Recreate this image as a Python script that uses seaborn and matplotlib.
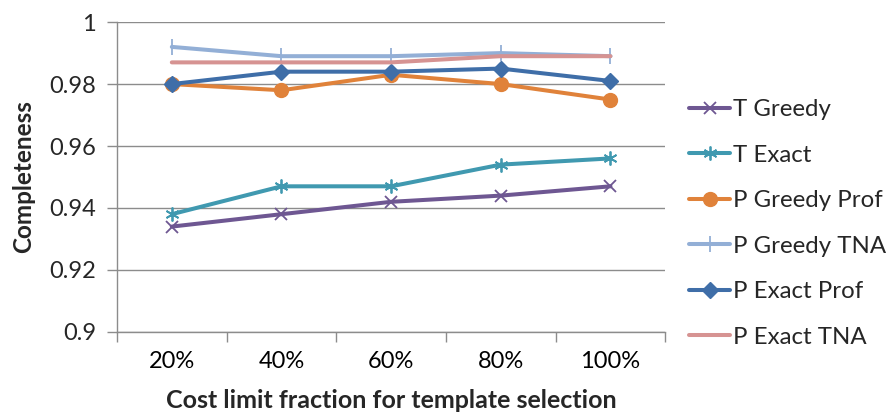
import matplotlib
matplotlib.use("Agg")
import matplotlib.pyplot as plt
import seaborn as sns
import pandas as pd
from matplotlib.ticker import FixedLocator

# Cost limit fractions and completeness per method
fractions = ["20%", "40%", "60%", "80%", "100%"]
t_greedy = [0.934, 0.938, 0.942, 0.944, 0.947]
t_exact = [0.938, 0.947, 0.947, 0.954, 0.956]
p_greedy_prof = [0.980, 0.978, 0.983, 0.980, 0.975]
p_greedy_tna = [0.992, 0.989, 0.989, 0.990, 0.989]
p_exact_prof = [0.980, 0.984, 0.984, 0.985, 0.981]
p_exact_tna = [0.987, 0.987, 0.987, 0.989, 0.989]

series = {
    "T Greedy": t_greedy,
    "T Exact": t_exact,
    "P Greedy Prof": p_greedy_prof,
    "P Greedy TNA": p_greedy_tna,
    "P Exact Prof": p_exact_prof,
    "P Exact TNA": p_exact_tna,
}

styles = {
    "T Greedy": dict(color="#6E5792", marker="x", ms=8, mew=1.3),
    "T Exact": dict(color="#4099B0", marker=(6, 2, 0), ms=10, mew=1.3),
    "P Greedy Prof": dict(color="#E0823A", marker="o", ms=10, mew=1.0),
    "P Greedy TNA": dict(color="#93AFD6", marker="|", ms=12, mew=1.3),
    "P Exact Prof": dict(color="#3F6EA8", marker="D", ms=8, mew=1.0),
    "P Exact TNA": dict(color="#D69392", marker=None, ms=0, mew=0),
}

sns.set_theme(style="white")
plt.rcParams["font.family"] = ["Lato", "DejaVu Sans"]

fig = plt.figure(figsize=(8.93, 4.17), dpi=100)
ax = fig.add_axes([0.131, 0.204, 0.614, 0.743])

for name, vals in series.items():
    st = styles[name]
    df = pd.DataFrame({"x": list(range(len(fractions))), "y": vals})
    sns.lineplot(data=df, x="x", y="y", ax=ax, color=st["color"], lw=2.9,
                 marker=st["marker"], markersize=st["ms"], markeredgewidth=st["mew"],
                 markeredgecolor=st["color"], markerfacecolor=st["color"],
                 label=name)

grid_c = "#8C8C8C"
ax.set_ylim(0.9, 1.0)
ax.set_yticks([0.9, 0.92, 0.94, 0.96, 0.98, 1.0])
ax.set_yticklabels(["0.9", "0.92", "0.94", "0.96", "0.98", "1"])
ax.yaxis.grid(True, color=grid_c, lw=1.0)
ax.set_axisbelow(True)

ax.set_xlim(-0.5, len(fractions) - 0.5)
ax.set_xticks(range(len(fractions)))
ax.set_xticklabels(fractions)
ax.xaxis.set_minor_locator(FixedLocator([i - 0.5 for i in range(len(fractions) + 1)]))
ax.tick_params(axis="x", which="major", length=0, pad=14, labelsize=17, colors="black")
ax.tick_params(axis="x", which="minor", length=7, width=1, color=grid_c, bottom=True)
ax.tick_params(axis="y", which="major", length=7, width=1, color=grid_c, left=True,
               labelsize=17, pad=8)

for s in ["top", "right"]:
    ax.spines[s].set_visible(False)
for s in ["left", "bottom"]:
    ax.spines[s].set_color(grid_c)
    ax.spines[s].set_linewidth(1.0)

ax.set_xlabel("Cost limit fraction for template selection", fontsize=18,
              fontweight="bold", labelpad=12)
ax.set_ylabel("Completeness", fontsize=17.5, fontweight="bold", labelpad=10)

ax.legend(loc="center left", bbox_to_anchor=(1.026, 0.35), frameon=False,
          fontsize=17.3, handlelength=1.7, handletextpad=0.12, labelspacing=1.02,
          borderaxespad=0)

fig.savefig("out.png", dpi=100)
